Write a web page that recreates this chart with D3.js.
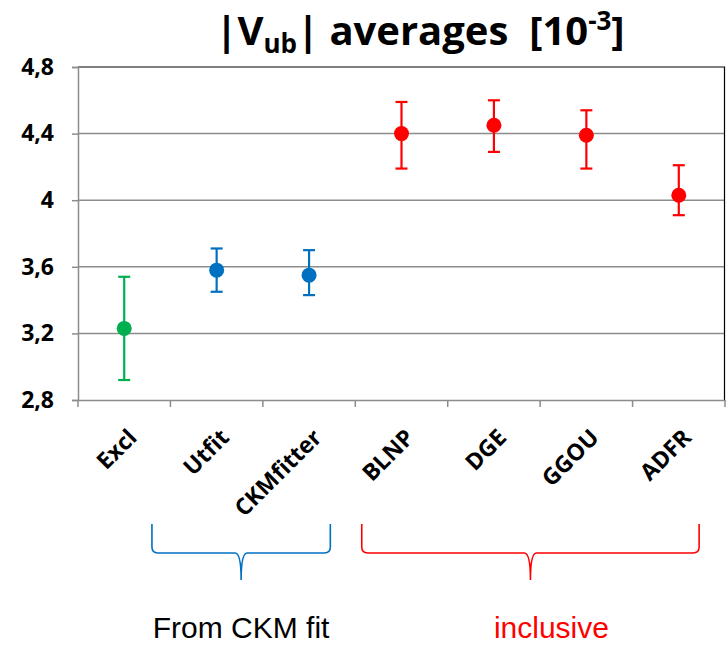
<!DOCTYPE html>
<html>
<head>
<meta charset="utf-8">
<script src="https://cdn.jsdelivr.net/npm/d3@7"></script>
<style>
  body { margin: 0; background: #fff; }
  svg { display: block; }
</style>
</head>
<body>
<div class="chart"></div>
<script>
const categories = ['Excl', 'Utfit', 'CKMfitter', 'BLNP', 'DGE', 'GGOU', 'ADFR'];
const values = [3.23, 3.58, 3.55, 4.40, 4.45, 4.39, 4.03];
const upper = [3.54, 3.71, 3.70, 4.59, 4.60, 4.54, 4.21];
const lower = [2.92, 3.45, 3.43, 4.19, 4.29, 4.19, 3.91];
const pointColors = ['#00B050', '#0070C0', '#0070C0', '#FF0000', '#FF0000', '#FF0000', '#FF0000'];
const yTicks = [2.8, 3.2, 3.6, 4, 4.4, 4.8];
// brace groups, positions in category-index units
const groups = [
    { label: 'From CKM fit', from: 0.3, to: 2.23, color: '#0070C0', textColor: '#000', shift: 0 },
    { label: 'inclusive', from: 2.57, to: 6.22, color: '#FF0000', textColor: '#FF0000', shift: 21 }
];

const width = 726, height = 646;
const margin = { top: 67, right: 1, bottom: 246, left: 78 };
const labelFont = '"Open Sans", sans-serif';

const svg = d3.select('.chart').append('svg')
    .attr('width', width)
    .attr('height', height);

const x = d3.scaleBand()
    .domain(categories)
    .range([margin.left, width - margin.right]);

const xi = d3.scaleLinear()
    .domain([0, 1])
    .range([x(categories[0]) + x.bandwidth() / 2, x(categories[1]) + x.bandwidth() / 2]);

const y = d3.scaleLinear()
    .domain([2.8, 4.8])
    .range([height - margin.bottom, margin.top]);

const fmt = d => d3.format('.1f')(d).replace('.', ',').replace(',0', '');

// gridlines
svg.append('g')
    .selectAll('line')
    .data(yTicks.slice(1, -1))
    .join('line')
    .attr('x1', margin.left)
    .attr('x2', width - margin.right)
    .attr('y1', d => y(d))
    .attr('y2', d => y(d))
    .attr('stroke', '#8c8c8c')
    .attr('stroke-width', 1.5);

// plot border (top + right)
svg.append('path')
    .attr('d', `M${margin.left},${y(4.8)}H${width - margin.right - 0.5}V${y(2.8)}`)
    .attr('fill', 'none')
    .attr('stroke', '#000')
    .attr('stroke-width', 1.2);

// y axis
const yAxis = svg.append('g')
    .attr('transform', `translate(${margin.left},0)`)
    .call(d3.axisLeft(y).tickValues(yTicks).tickSize(6).tickPadding(18).tickFormat(fmt));
yAxis.select('.domain').attr('stroke', '#8c8c8c').attr('stroke-width', 1.5);
yAxis.selectAll('.tick line').attr('stroke', '#8c8c8c').attr('stroke-width', 1.5);
yAxis.selectAll('.tick text')
    .attr('font-family', labelFont)
    .attr('font-weight', 'bold')
    .attr('font-size', 23)
    .attr('fill', '#000');

// x axis
const xAxis = svg.append('g')
    .attr('transform', `translate(0,${y(2.8)})`)
    .call(d3.axisBottom(x).tickSize(0).tickFormat(''));
xAxis.select('.domain').attr('stroke', '#8c8c8c').attr('stroke-width', 1.5);

xAxis.selectAll('.sep')
    .data(d3.range(categories.length + 1))
    .join('line')
    .attr('class', 'sep')
    .attr('x1', i => margin.left + i * x.step())
    .attr('x2', i => margin.left + i * x.step())
    .attr('y1', 0)
    .attr('y2', 7)
    .attr('stroke', '#8c8c8c')
    .attr('stroke-width', 1.5);

xAxis.selectAll('.lbl')
    .data(categories)
    .join('text')
    .attr('class', 'lbl')
    .attr('transform', d => `translate(${x(d) + x.bandwidth() / 2 + 14},${39}) rotate(-45)`)
    .attr('text-anchor', 'end')
    .attr('font-family', labelFont)
    .attr('font-weight', 'bold')
    .attr('font-size', 23)
    .attr('fill', '#000')
    .text(d => d);

// error bars
const pts = categories.map((c, i) => ({ c, v: values[i], hi: upper[i], lo: lower[i], color: pointColors[i] }));
const capW = 6;
const eb = svg.append('g').selectAll('g').data(pts).join('g')
    .attr('stroke', d => d.color)
    .attr('stroke-width', 2.2);
eb.append('line')
    .attr('x1', d => x(d.c) + x.bandwidth() / 2)
    .attr('x2', d => x(d.c) + x.bandwidth() / 2)
    .attr('y1', d => y(d.hi))
    .attr('y2', d => y(d.lo));
eb.append('line')
    .attr('x1', d => x(d.c) + x.bandwidth() / 2 - capW)
    .attr('x2', d => x(d.c) + x.bandwidth() / 2 + capW)
    .attr('y1', d => y(d.hi))
    .attr('y2', d => y(d.hi));
eb.append('line')
    .attr('x1', d => x(d.c) + x.bandwidth() / 2 - capW)
    .attr('x2', d => x(d.c) + x.bandwidth() / 2 + capW)
    .attr('y1', d => y(d.lo))
    .attr('y2', d => y(d.lo));

svg.append('g').selectAll('circle').data(pts).join('circle')
    .attr('cx', d => x(d.c) + x.bandwidth() / 2)
    .attr('cy', d => y(d.v))
    .attr('r', 7.5)
    .attr('fill', d => d.color);

// title
const title = svg.append('text')
    .attr('x', 420)
    .attr('y', 45)
    .attr('text-anchor', 'middle')
    .attr('font-family', labelFont)
    .attr('font-weight', 'bold')
    .attr('font-size', 40)
    .attr('fill', '#000')
    .style('white-space', 'pre');
title.append('tspan').text('|V');
title.append('tspan').attr('font-size', 26).attr('dy', 8).text('ub');
title.append('tspan').attr('dy', -8).text('| averages  [10');
title.append('tspan').attr('font-size', 26).attr('dy', -15).text('-3');
title.append('tspan').attr('dy', 15).text(']');

// braces
const braceTop = 524, braceMid = 553, braceTip = 580;
groups.forEach(g => {
    const l = xi(g.from), r = xi(g.to), m = (l + r) / 2;
    const path = d3.path();
    path.moveTo(l, braceTop);
    path.lineTo(l, braceMid - 6);
    path.quadraticCurveTo(l, braceMid, l + 6, braceMid);
    path.lineTo(m - 6, braceMid);
    path.quadraticCurveTo(m, braceMid, m, braceTip);
    path.moveTo(r, braceTop);
    path.lineTo(r, braceMid - 6);
    path.quadraticCurveTo(r, braceMid, r - 6, braceMid);
    path.lineTo(m + 6, braceMid);
    path.quadraticCurveTo(m, braceMid, m, braceTip);
    svg.append('path')
        .attr('d', path.toString())
        .attr('fill', 'none')
        .attr('stroke', g.color)
        .attr('stroke-width', 1.6);

    svg.append('text')
        .attr('x', m + g.shift)
        .attr('y', 638)
        .attr('text-anchor', 'middle')
        .attr('font-family', '"Liberation Sans", Arial, sans-serif')
        .attr('font-size', 30)
        .attr('fill', g.textColor)
        .text(g.label);
});
</script>
</body>
</html>
